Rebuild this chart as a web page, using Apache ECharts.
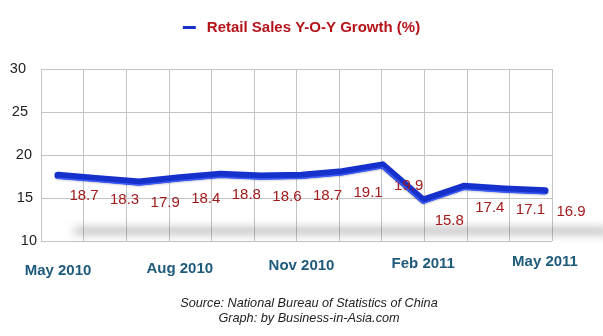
<!DOCTYPE html>
<html>
<head>
<meta charset="utf-8">
<script src="https://cdn.jsdelivr.net/npm/echarts@6/dist/echarts.min.js"></script>
<style>
  html, body { margin: 0; padding: 0; background: #fff; }
  #chart { width: 603px; height: 336px; }
</style>
</head>
<body>
<div id="chart"></div>
<script>
// Monthly retail sales, year-on-year growth (%)
const months = ['May 2010', 'Jun 2010', 'Jul 2010', 'Aug 2010', 'Sep 2010', 'Oct 2010',
  'Nov 2010', 'Dec 2010', 'Jan 2011', 'Feb 2011', 'Mar 2011', 'Apr 2011', 'May 2011'];
const growth = [18.7, 18.3, 17.9, 18.4, 18.8, 18.6, 18.7, 19.1, 19.9, 15.8, 17.4, 17.1, 16.9];
const yTicks = [10, 15, 20, 25, 30];
const seriesName = 'Retail Sales Y-O-Y Growth (%)';

const FONT = '"Liberation Sans", Arial, Helvetica, sans-serif';
const RIBBON = '#1630cc';

// per-tick label nudges giving the back wall a slight perspective
const yPad = { 30: 13, 25: 11, 20: 7, 15: 6, 10: 2 };
const yRich = {};
yTicks.forEach(v => {
  yRich['t' + v] = { fontSize: 14.5, color: '#222', fontFamily: FONT, padding: [0, yPad[v], 0, 0] };
});
const monthPad = [18, 14, 8, 4, 0];
const xRich = {};
monthPad.forEach((p, i) => {
  xRich['m' + i] = { fontSize: 15, fontWeight: 'bold', color: '#1e5a7c', fontFamily: FONT,
    lineHeight: 17, padding: [p, 0, 0, 0] };
});

const chart = echarts.init(document.getElementById('chart'), null, { renderer: 'canvas' });

// the shadow band is cast from a shape kept above the canvas, so only its blur shows
const SHADOW_LIFT = 400;

chart.setOption({
  backgroundColor: '#fff',
  animation: false,
  title: {
    text: 'Source: National Bureau of Statistics of China\nGraph: by Business-in-Asia.com',
    left: 304, top: 291, textAlign: 'center',
    textStyle: { fontSize: 12.7, fontStyle: 'italic', fontWeight: 'normal', color: '#222',
      fontFamily: FONT, lineHeight: 15 }
  },
  legend: {
    data: [{ name: seriesName, icon: 'rect', itemStyle: { color: RIBBON, opacity: 1 } }],
    top: 15, left: 'center',
    selectedMode: false,
    itemWidth: 13, itemHeight: 3,
    textStyle: { fontSize: 15, fontWeight: 'bold', color: '#b5141b', fontFamily: FONT,
      padding: [0, 0, 0, 6] }
  },
  grid: [
    // back wall
    { left: 41, right: 51, top: 69, bottom: 95 },
    // front plane carrying the line
    { left: 58, right: 58, top: 78, bottom: 86 },
    // lower edge of the ribbon
    { left: 58, right: 58, top: 81, bottom: 83 }
  ],
  xAxis: [
    { gridIndex: 0, type: 'value', min: 0, max: 12, interval: 1,
      axisLine: { show: false }, axisTick: { show: false }, axisLabel: { show: false },
      splitLine: { show: true, lineStyle: { color: '#c4c4c4', width: 1 } } },
    { gridIndex: 1, type: 'category', data: months, boundaryGap: false,
      axisLine: { show: false }, axisTick: { show: false }, splitLine: { show: false },
      axisLabel: {
        interval: 2, margin: 3,
        formatter: (v, i) => '{m' + (i / 3) + '|' + v + '}',
        rich: xRich
      } },
    { gridIndex: 2, type: 'category', data: months, boundaryGap: false, show: false }
  ],
  yAxis: [
    { gridIndex: 0, type: 'value', min: 10, max: 30, interval: 5,
      axisLine: { show: false }, axisTick: { show: false },
      axisLabel: { margin: 2, formatter: v => '{t' + v + '|' + v + '}', rich: yRich },
      splitLine: { show: true, lineStyle: { color: '#c4c4c4', width: 1 } } },
    { gridIndex: 1, type: 'value', min: 10, max: 30, interval: 5, show: false },
    { gridIndex: 2, type: 'value', min: 10, max: 30, interval: 5, show: false }
  ],
  graphic: [
    {
      // soft floor shadow under the ribbon
      type: 'rect', z: 1, silent: true,
      shape: { x: 74, y: 229 - SHADOW_LIFT, width: 534, height: 4, r: 2 },
      style: {
        fill: '#888',
        shadowBlur: 10, shadowOffsetY: SHADOW_LIFT,
        shadowColor: 'rgba(60,60,60,0.6)'
      }
    }
  ],
  series: [
    {
      name: seriesName, type: 'line', xAxisIndex: 1, yAxisIndex: 1,
      data: growth, z: 5,
      symbol: 'circle', symbolSize: 1, showSymbol: true,
      itemStyle: { color: 'rgba(0,0,0,0)' },
      lineStyle: { color: RIBBON, width: 7, cap: 'round', join: 'round',
        shadowColor: 'rgba(0,0,60,0.25)', shadowBlur: 2, shadowOffsetY: 1 },
      label: {
        show: true, position: 'inside', offset: [26, 21],
        fontSize: 15, color: '#a21a1a', fontFamily: FONT,
        formatter: p => p.value.toFixed(1)
      },
      emphasis: { disabled: true }
    },
    {
      name: 'edge', type: 'line', xAxisIndex: 2, yAxisIndex: 2,
      data: growth, z: 6, showSymbol: false, symbol: 'none',
      lineStyle: { color: '#3a5af5', width: 1.5, join: 'round' },
      emphasis: { disabled: true }, silent: true
    }
  ]
});
</script>
</body>
</html>
